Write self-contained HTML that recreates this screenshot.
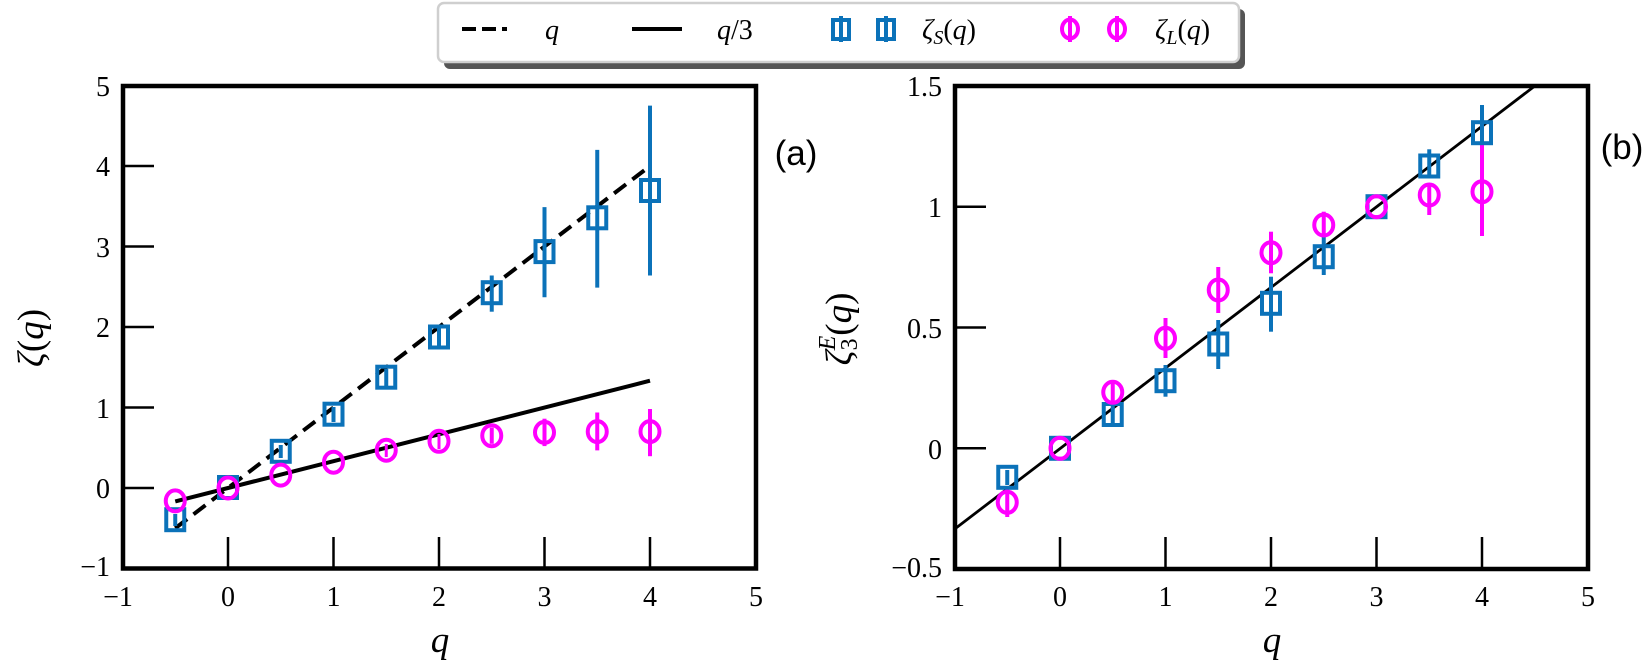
<!DOCTYPE html>
<html><head><meta charset="utf-8"><style>
html,body{margin:0;padding:0;background:#fff;}
svg{display:block;}
.t{font-family:"Liberation Serif",serif;font-size:28px;fill:#000;}
.i{font-family:"Liberation Serif",serif;font-style:italic;fill:#000;}
</style></head><body>
<svg width="1650" height="666" viewBox="0 0 1650 666" xmlns="http://www.w3.org/2000/svg">
<defs>
<clipPath id="cl"><rect x="123" y="86" width="633" height="483"/></clipPath>
<clipPath id="cr"><rect x="955" y="86" width="633" height="483"/></clipPath>
</defs>

<!-- Legend -->
<rect x="444" y="9" width="801" height="60" rx="6" fill="#555"/>
<rect x="438" y="3" width="801" height="59" rx="6" fill="#fff" stroke="#cfcfcf" stroke-width="2.5"/>
<line x1="462" y1="29" x2="507" y2="29" stroke="#000" stroke-width="4" stroke-dasharray="14,6"/>
<text class="i" x="545" y="39" font-size="28">q</text>
<line x1="632" y1="29" x2="682" y2="29" stroke="#000" stroke-width="4"/>
<text class="i" x="717" y="39" font-size="28">q<tspan font-style="normal">/3</tspan></text>
<g stroke="#0b72b9" stroke-width="4" fill="none">
<line x1="841" y1="16" x2="841" y2="42"/><rect x="833" y="20" width="16" height="19"/>
<line x1="886" y1="16" x2="886" y2="42"/><rect x="878" y="20" width="16" height="19"/>
</g>
<text class="i" x="922" y="39" font-size="28">ζ<tspan font-size="20" dy="5">S</tspan><tspan font-style="normal" dy="-5">(</tspan>q<tspan font-style="normal">)</tspan></text>
<g stroke="#ff00ff" stroke-width="4" fill="none">
<line x1="1070" y1="16" x2="1070" y2="42"/><ellipse cx="1070" cy="29" rx="8" ry="9.5"/>
<line x1="1117" y1="16" x2="1117" y2="42"/><ellipse cx="1117" cy="29" rx="8" ry="9.5"/>
</g>
<text class="i" x="1155" y="39" font-size="28">ζ<tspan font-size="20" dy="5">L</tspan><tspan font-style="normal" dy="-5">(</tspan>q<tspan font-style="normal">)</tspan></text>

<!-- LEFT PANEL -->
<g stroke="#000" stroke-width="2.5">
<line x1="123" y1="166" x2="154" y2="166"/>
<line x1="123" y1="246.5" x2="154" y2="246.5"/>
<line x1="123" y1="327" x2="154" y2="327"/>
<line x1="123" y1="407.5" x2="154" y2="407.5"/>
<line x1="123" y1="488" x2="154" y2="488"/>
<line x1="228" y1="568" x2="228" y2="537"/>
<line x1="333.5" y1="568" x2="333.5" y2="537"/>
<line x1="439" y1="568" x2="439" y2="537"/>
<line x1="544.5" y1="568" x2="544.5" y2="537"/>
<line x1="650" y1="568" x2="650" y2="537"/>
</g>
<g class="t" text-anchor="end">
<text x="110" y="96">5</text>
<text x="110" y="176">4</text>
<text x="110" y="257">3</text>
<text x="110" y="337">2</text>
<text x="110" y="418">1</text>
<text x="110" y="498">0</text>
<text x="110" y="576">−1</text>
</g>
<g class="t" text-anchor="middle">
<text x="118" y="606">−1</text>
<text x="228" y="606">0</text>
<text x="333.5" y="606">1</text>
<text x="439" y="606">2</text>
<text x="544.5" y="606">3</text>
<text x="650" y="606">4</text>
<text x="756" y="606">5</text>
</g>
<text class="i" x="440" y="652" font-size="37" text-anchor="middle">q</text>
<text class="i" font-size="37" text-anchor="middle" transform="translate(43,338) rotate(-90)">ζ<tspan font-style="normal">(</tspan>q<tspan font-style="normal">)</tspan></text>
<text x="796" y="165" font-family="Liberation Sans, sans-serif" font-size="35" text-anchor="middle">(a)</text>

<g clip-path="url(#cl)">
<line x1="175.25" y1="528.25" x2="650" y2="166" stroke="#000" stroke-width="4" stroke-dasharray="15,8"/>
<line x1="175.25" y1="501.4" x2="650" y2="380.7" stroke="#000" stroke-width="4"/>
<g stroke="#ff00ff" stroke-width="4">
<line x1="491.75" y1="427.6" x2="491.75" y2="443.8"/>
<line x1="544.5" y1="418.7" x2="544.5" y2="446.1"/>
<line x1="597.25" y1="412.5" x2="597.25" y2="450.4"/>
<line x1="650" y1="409" x2="650" y2="456.2"/>
</g>
<g stroke="#0b72b9" stroke-width="4">
<line x1="175.25" y1="514" x2="175.25" y2="526"/>
<line x1="280.75" y1="445" x2="280.75" y2="458"/>
<line x1="333.5" y1="407" x2="333.5" y2="422"/>
<line x1="386.25" y1="369" x2="386.25" y2="386"/>
<line x1="439" y1="328" x2="439" y2="347"/>
<line x1="491.75" y1="275.5" x2="491.75" y2="311.7"/>
<line x1="544.5" y1="207.1" x2="544.5" y2="297.2"/>
<line x1="597.25" y1="149.9" x2="597.25" y2="287.6"/>
<line x1="650" y1="105.6" x2="650" y2="275.5"/>
</g>
<g stroke="#0b72b9" stroke-width="4" fill="none">
<rect x="166.25" y="509.2" width="18" height="21"/>
<rect x="219" y="477" width="18" height="21"/>
<rect x="271.75" y="440.8" width="18" height="21"/>
<rect x="324.5" y="403.7" width="18" height="21"/>
<rect x="377.25" y="366.7" width="18" height="21"/>
<rect x="430" y="326.5" width="18" height="21"/>
<rect x="482.75" y="282.2" width="18" height="21"/>
<rect x="535.5" y="241.1" width="18" height="21"/>
<rect x="588.25" y="207.3" width="18" height="21"/>
<rect x="641" y="180" width="18" height="21"/>
</g>
<g stroke="#ff00ff" stroke-width="4" fill="none">
<ellipse cx="175.25" cy="500.9" rx="9.5" ry="10.5"/>
<ellipse cx="228" cy="488" rx="9.5" ry="10.5"/>
<ellipse cx="280.75" cy="475.1" rx="9.5" ry="10.5"/>
<ellipse cx="333.5" cy="462.2" rx="9.5" ry="10.5"/>
<ellipse cx="386.25" cy="450.2" rx="9.5" ry="10.5"/>
<ellipse cx="439" cy="441.3" rx="9.5" ry="10.5"/>
<ellipse cx="491.75" cy="435.7" rx="9.5" ry="10.5"/>
<ellipse cx="544.5" cy="432.4" rx="9.5" ry="10.5"/>
<ellipse cx="597.25" cy="431.6" rx="9.5" ry="10.5"/>
<ellipse cx="650" cy="431.6" rx="9.5" ry="10.5"/>
</g>
<g stroke="#ff00ff" stroke-width="3">
<line x1="386.25" y1="444" x2="386.25" y2="457"/>
<line x1="439" y1="434" x2="439" y2="449"/>
</g>
</g>
<rect x="123" y="86" width="633" height="482.5" fill="none" stroke="#000" stroke-width="4.5"/>

<!-- RIGHT PANEL -->
<g stroke="#000" stroke-width="2.5">
<line x1="955" y1="206.7" x2="986" y2="206.7"/>
<line x1="955" y1="327.5" x2="986" y2="327.5"/>
<line x1="955" y1="448.3" x2="986" y2="448.3"/>
<line x1="1060" y1="569" x2="1060" y2="537"/>
<line x1="1165.5" y1="569" x2="1165.5" y2="537"/>
<line x1="1271" y1="569" x2="1271" y2="537"/>
<line x1="1376.5" y1="569" x2="1376.5" y2="537"/>
<line x1="1482" y1="569" x2="1482" y2="537"/>
</g>
<g class="t" text-anchor="end">
<text x="942" y="96">1.5</text>
<text x="942" y="217">1</text>
<text x="942" y="338">0.5</text>
<text x="942" y="459">0</text>
<text x="942" y="577">−0.5</text>
</g>
<g class="t" text-anchor="middle">
<text x="950" y="606">−1</text>
<text x="1060" y="606">0</text>
<text x="1165.5" y="606">1</text>
<text x="1271" y="606">2</text>
<text x="1376.5" y="606">3</text>
<text x="1482" y="606">4</text>
<text x="1588" y="606">5</text>
</g>
<text class="i" x="1272" y="652" font-size="37" text-anchor="middle">q</text>
<text class="i" font-size="37" text-anchor="middle" transform="translate(851,329) rotate(-90)">ζ<tspan font-style="normal" font-size="24" dy="6">3</tspan><tspan font-size="24" dx="-12" dy="-22">E</tspan><tspan font-style="normal" dy="16">(</tspan>q<tspan font-style="normal">)</tspan></text>
<text x="1622" y="159" font-family="Liberation Sans, sans-serif" font-size="35" text-anchor="middle">(b)</text>

<g clip-path="url(#cr)">
<line x1="955" y1="528.8" x2="1534.75" y2="86" stroke="#000" stroke-width="2.8"/>
<g stroke="#ff00ff" stroke-width="4">
<line x1="1007.25" y1="488" x2="1007.25" y2="517"/>
<line x1="1112.75" y1="382" x2="1112.75" y2="402"/>
<line x1="1165.5" y1="318" x2="1165.5" y2="358"/>
<line x1="1218.25" y1="267" x2="1218.25" y2="313"/>
<line x1="1271" y1="231.7" x2="1271" y2="273.3"/>
<line x1="1323.75" y1="211.7" x2="1323.75" y2="236.7"/>
<line x1="1429.25" y1="183.3" x2="1429.25" y2="215"/>
<line x1="1482" y1="140" x2="1482" y2="236"/>
</g>
<g stroke="#0b72b9" stroke-width="4">
<line x1="1007.25" y1="470" x2="1007.25" y2="485"/>
<line x1="1112.75" y1="406" x2="1112.75" y2="423"/>
<line x1="1165.5" y1="365" x2="1165.5" y2="396.7"/>
<line x1="1218.25" y1="320" x2="1218.25" y2="369"/>
<line x1="1271" y1="276.7" x2="1271" y2="331.7"/>
<line x1="1323.75" y1="236.7" x2="1323.75" y2="275"/>
<line x1="1429.25" y1="149.3" x2="1429.25" y2="176.7"/>
<line x1="1482" y1="105" x2="1482" y2="145"/>
</g>
<g stroke="#0b72b9" stroke-width="4" fill="none">
<rect x="998.25" y="466.8" width="18" height="21"/>
<rect x="1051" y="437.8" width="18" height="21"/>
<rect x="1103.75" y="404" width="18" height="21"/>
<rect x="1156.5" y="370.2" width="18" height="21"/>
<rect x="1209.25" y="333.5" width="18" height="21"/>
<rect x="1262" y="292.8" width="18" height="21"/>
<rect x="1314.75" y="246.2" width="18" height="21"/>
<rect x="1367.5" y="196.2" width="18" height="21"/>
<rect x="1420.25" y="155.5" width="18" height="21"/>
<rect x="1473" y="122.2" width="18" height="21"/>
</g>
<g stroke="#ff00ff" stroke-width="4" fill="none">
<ellipse cx="1007.25" cy="502.3" rx="9.5" ry="10.5"/>
<ellipse cx="1060" cy="448.3" rx="9.5" ry="10.5"/>
<ellipse cx="1112.75" cy="392.3" rx="9.5" ry="10.5"/>
<ellipse cx="1165.5" cy="338.3" rx="9.5" ry="10.5"/>
<ellipse cx="1218.25" cy="290" rx="9.5" ry="10.5"/>
<ellipse cx="1271" cy="252.7" rx="9.5" ry="10.5"/>
<ellipse cx="1323.75" cy="225" rx="9.5" ry="10.5"/>
<ellipse cx="1376.5" cy="206.7" rx="9.5" ry="10.5"/>
<ellipse cx="1429.25" cy="195" rx="9.5" ry="10.5"/>
<ellipse cx="1482" cy="191.7" rx="9.5" ry="10.5"/>
</g>
</g>
<rect x="955" y="86" width="633" height="483" fill="none" stroke="#000" stroke-width="4.5"/>
</svg>
</body></html>
